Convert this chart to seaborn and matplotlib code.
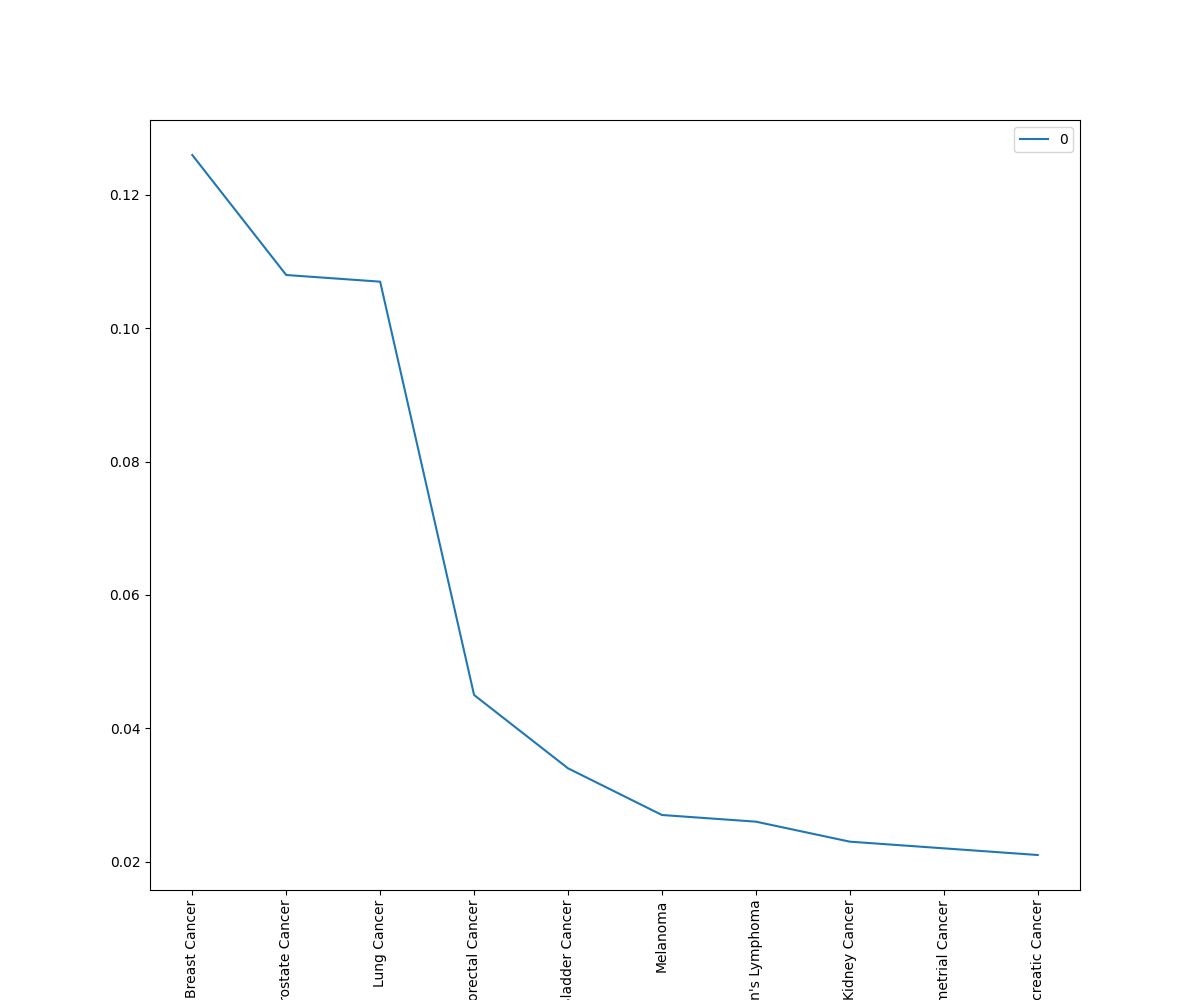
import matplotlib
matplotlib.use("Agg")
import matplotlib.pyplot as plt
import pandas as pd
import seaborn as sns

cancers = ["Breast Cancer", "Prostate Cancer", "Lung Cancer", "Colorectal Cancer",
           "Bladder Cancer", "Melanoma", "Non-Hodgkin's Lymphoma", "Kidney Cancer",
           "Endometrial Cancer", "Pancreatic Cancer"]
rates = [0.126, 0.108, 0.107, 0.045, 0.034, 0.027, 0.026, 0.023, 0.022, 0.021]

df = pd.DataFrame({"cancer": cancers, "rate": rates})

fig, ax = plt.subplots(figsize=(12, 10), dpi=100)
sns.lineplot(data=df, x="cancer", y="rate", sort=False, color="#1f77b4", label="0", ax=ax)
ax.set_xlabel("")
ax.set_ylabel("")
ax.tick_params(axis="x", labelrotation=90)
ax.legend(loc="upper right")
fig.savefig("out.png", dpi=100)
